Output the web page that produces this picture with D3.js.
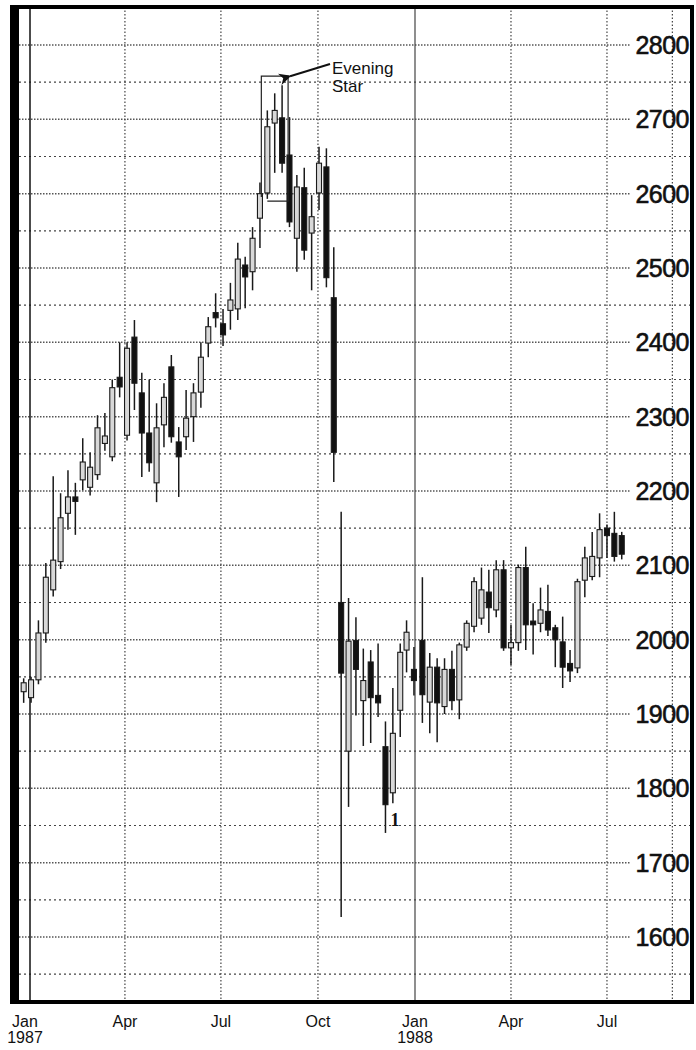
<!DOCTYPE html>
<html>
<head>
<meta charset="utf-8">
<script src="https://cdn.jsdelivr.net/npm/d3@7"></script>
<style>
  body { margin: 0; background: #fff; }
  svg { display: block; }
</style>
</head>
<body>
<div id="chart"></div>
<script>
const SVG_WIDTH = 696;
const SVG_HEIGHT = 1050;

// weekly candles (week ending dates), Dow Jones Industrials
const WEEKS = [
  "1986-12-26", "1987-01-02", "1987-01-09", "1987-01-16", "1987-01-23", "1987-01-30",
  "1987-02-06", "1987-02-13", "1987-02-20", "1987-02-27", "1987-03-06", "1987-03-13",
  "1987-03-20", "1987-03-27", "1987-04-03", "1987-04-10", "1987-04-17", "1987-04-24",
  "1987-05-01", "1987-05-08", "1987-05-15", "1987-05-22", "1987-05-29", "1987-06-05",
  "1987-06-12", "1987-06-19", "1987-06-26", "1987-07-03", "1987-07-10", "1987-07-17",
  "1987-07-24", "1987-07-31", "1987-08-07", "1987-08-14", "1987-08-21", "1987-08-28",
  "1987-09-04", "1987-09-11", "1987-09-18", "1987-09-25", "1987-10-02", "1987-10-09",
  "1987-10-16", "1987-10-23", "1987-10-30", "1987-11-06", "1987-11-13", "1987-11-20",
  "1987-11-27", "1987-12-04", "1987-12-11", "1987-12-18", "1987-12-24", "1987-12-31",
  "1988-01-08", "1988-01-15", "1988-01-22", "1988-01-29", "1988-02-05", "1988-02-12",
  "1988-02-19", "1988-02-26", "1988-03-04", "1988-03-11", "1988-03-18", "1988-03-25",
  "1988-04-01", "1988-04-08", "1988-04-15", "1988-04-22", "1988-04-29", "1988-05-06",
  "1988-05-13", "1988-05-20", "1988-05-27", "1988-06-03", "1988-06-10", "1988-06-17",
  "1988-06-24", "1988-07-01", "1988-07-08", "1988-07-15"
];
const OPEN = [
  1930, 1922, 1946, 2009, 2067, 2105, 2170, 2192, 2215, 2205, 2222, 2264,
  2246, 2353, 2275, 2407, 2332, 2278, 2211, 2289, 2367, 2266, 2273, 2300,
  2333, 2399, 2440, 2425, 2443, 2445, 2504, 2495, 2567, 2601, 2695, 2702,
  2652, 2540, 2608, 2547, 2601, 2636, 2460, 2050, 1850, 1999, 1918, 1970,
  1925, 1856, 1794, 1905, 1986, 1960, 1999, 1916, 1963, 1910, 1960, 1919,
  1990, 2018, 2029, 2064, 2040, 2094, 1989, 1996, 2097, 2025, 2022, 2038,
  2016, 1997, 1968, 1962, 2080, 2085, 2110, 2150, 2143, 2140
];
const HIGH = [
  1948, 1950, 2026, 2103, 2220, 2197, 2228, 2211, 2271, 2252, 2302, 2305,
  2350, 2400, 2400, 2430, 2359, 2350, 2318, 2345, 2383, 2286, 2336, 2345,
  2400, 2434, 2466, 2445, 2480, 2534, 2515, 2555, 2615, 2712, 2735, 2746,
  2703, 2625, 2635, 2598, 2663, 2661, 2528, 2172, 2056, 2030, 1988, 1986,
  1995, 1890, 1935, 1995, 2026, 1990, 2084, 1982, 1975, 1975, 1985, 1996,
  2026, 2084, 2097, 2094, 2107, 2107, 2020, 2101, 2125, 2049, 2070, 2074,
  2020, 2031, 1986, 2082, 2125, 2145, 2170, 2155, 2172, 2145
];
const LOW = [
  1915, 1915, 1940, 1996, 2058, 2095, 2148, 2141, 2201, 2194, 2215, 2254,
  2240, 2326, 2268, 2309, 2219, 2226, 2185, 2259, 2265, 2192, 2255, 2266,
  2312, 2380, 2420, 2395, 2417, 2430, 2446, 2470, 2527, 2593, 2628, 2628,
  2555, 2495, 2511, 2470, 2578, 2474, 2212, 1627, 1775, 1898, 1857, 1861,
  1896, 1740, 1780, 1869, 1956, 1925, 1888, 1874, 1862, 1900, 1905, 1893,
  1985, 2010, 2020, 2009, 2030, 1985, 1966, 1985, 1986, 1980, 2010, 2005,
  1963, 1935, 1943, 1955, 2057, 2080, 2084, 2110, 2105, 2108
];
const CLOSE = [
  1942, 1946, 2009, 2084, 2107, 2164, 2192, 2186, 2239, 2232, 2285, 2274,
  2339, 2340, 2392, 2345, 2278, 2238, 2285, 2326, 2273, 2246, 2298, 2332,
  2380, 2421, 2433, 2410, 2457, 2512, 2488, 2540, 2600, 2690, 2712, 2641,
  2562, 2609, 2524, 2569, 2641, 2487, 2252, 1955, 1998, 1960, 1945, 1922,
  1915, 1778, 1874, 1983, 2010, 1945, 1926, 1963, 1915, 1960, 1918, 1993,
  2022, 2078, 2067, 2043, 2094, 1989, 1996, 2097, 2020, 2020, 2040, 2013,
  2000, 1963, 1958, 2078, 2110, 2112, 2148, 2140, 2112, 2115
];

const PRICE_TICKS = [1600, 1700, 1800, 1900, 2000, 2100, 2200, 2300, 2400, 2500, 2600, 2700, 2800];
const HALF_TICKS = [1550, 1650, 1750, 1850, 1950, 2050, 2150, 2250, 2350, 2450, 2550, 2650, 2750];
const MONTH_TICKS = ["1987-01-01", "1987-04-01", "1987-07-01", "1987-10-01", "1988-01-01", "1988-04-01", "1988-07-01"];
const MONTH_LABELS = [["Jan", "1987"], ["Apr"], ["Jul"], ["Oct"], ["Jan", "1988"], ["Apr"], ["Jul"]];
const EXTRA_VLINES = ["1988-09-01"];

const STAR_WEEKS = ["1987-08-14", "1987-08-28"];
const STAR_RANGE = [2590, 2758];
const DEC_LOW_WEEK = "1987-12-04";

const parse = d3.timeParse("%Y-%m-%d");

const FRAME = { left: 14, right: 692, top: 7, bottom: 1002 };

const xScale = d3.scaleTime()
  .domain([parse("1987-01-01"), parse("1988-01-01")])
  .range([30, 415]);

const yScale = d3.scaleLinear()
  .domain([1600, 2800])
  .range([937, 45]);

const data = WEEKS.map((w, i) => ({
  date: parse(w), open: OPEN[i], high: HIGH[i], low: LOW[i], close: CLOSE[i]
}));

const svg = d3.select("#chart")
  .append("svg")
  .attr("width", SVG_WIDTH)
  .attr("height", SVG_HEIGHT);

// horizontal grid
svg.append("g")
  .selectAll("line")
  .data(HALF_TICKS)
  .join("line")
  .attr("x1", FRAME.left + 5)
  .attr("x2", FRAME.right)
  .attr("y1", d => yScale(d))
  .attr("y2", d => yScale(d))
  .attr("stroke", "#444")
  .attr("stroke-width", 1.2)
  .attr("stroke-dasharray", "2,3");

svg.append("g")
  .selectAll("line")
  .data(PRICE_TICKS)
  .join("line")
  .attr("x1", FRAME.left + 5)
  .attr("x2", 630)
  .attr("y1", d => yScale(d))
  .attr("y2", d => yScale(d))
  .attr("stroke", "#555")
  .attr("stroke-width", 1.5)
  .attr("stroke-dasharray", "1.5,1.5");

// vertical grid
svg.append("g")
  .selectAll("line")
  .data(MONTH_TICKS.concat(EXTRA_VLINES))
  .join("line")
  .attr("x1", d => xScale(parse(d)))
  .attr("x2", d => xScale(parse(d)))
  .attr("y1", FRAME.top)
  .attr("y2", FRAME.bottom)
  .attr("stroke", (d, i) => i === 0 ? "#111" : "#444")
  .attr("stroke-width", (d, i) => i === 0 ? 1.5 : 1.2)
  .attr("stroke-dasharray", (d, i) => (i === 0 || i === 4) ? null : "1.5,2");

// candles
const candles = svg.append("g").attr("class", "candles");
const BODY_W = 5;

candles.selectAll(".wick")
  .data(data)
  .join("line")
  .attr("class", "wick")
  .attr("x1", d => xScale(d.date))
  .attr("x2", d => xScale(d.date))
  .attr("y1", d => yScale(d.high))
  .attr("y2", d => yScale(d.low))
  .attr("stroke", "#1a1a1a")
  .attr("stroke-width", 1.5);

candles.selectAll(".body")
  .data(data)
  .join("rect")
  .attr("class", "body")
  .attr("x", d => xScale(d.date) - BODY_W / 2)
  .attr("y", d => yScale(Math.max(d.open, d.close)))
  .attr("width", BODY_W)
  .attr("height", d => Math.max(1.5, Math.abs(yScale(d.open) - yScale(d.close))))
  .attr("fill", d => d.close >= d.open ? "#d8d8d8" : "#111")
  .attr("stroke", "#1a1a1a")
  .attr("stroke-width", 1.1);

// y labels
svg.append("g")
  .selectAll("text")
  .data(PRICE_TICKS)
  .join("text")
  .attr("x", 689)
  .attr("y", d => yScale(d))
  .attr("dy", "0.36em")
  .attr("text-anchor", "end")
  .attr("font-family", "Liberation Sans, Arial, sans-serif")
  .attr("font-size", 25)
  .attr("letter-spacing", -0.5)
  .attr("fill", "#111")
  .attr("stroke", "#111")
  .attr("stroke-width", 0.6)
  .text(d => d);

// x labels
const xLabels = svg.append("g")
  .selectAll("text")
  .data(MONTH_TICKS)
  .join("text")
  .attr("y", 1027)
  .attr("text-anchor", "middle")
  .attr("font-family", "Liberation Sans Narrow, Arial Narrow, Liberation Sans, sans-serif")
  .attr("font-size", 16)
  .attr("fill", "#111");

xLabels.each(function(d, i) {
  const t = d3.select(this);
  MONTH_LABELS[i].forEach((s, k) => {
    t.append("tspan")
      .attr("x", xScale(parse(d)) - (i === 0 ? 5 : 0))
      .attr("dy", k === 0 ? 0 : 16)
      .text(s);
  });
});

// evening star annotation
const boxL = xScale(parse(STAR_WEEKS[0])) - 6;
const boxR = xScale(parse(STAR_WEEKS[1])) + 6;
const boxT = yScale(STAR_RANGE[1]);
const boxB = yScale(STAR_RANGE[0]);

svg.append("path")
  .attr("d", `M${boxL},${boxB - 4}V${boxT}H${boxR}V${boxB}H${boxL + 6}`)
  .attr("fill", "none")
  .attr("stroke", "#222")
  .attr("stroke-width", 1.2);

svg.append("defs").append("marker")
  .attr("id", "arrow")
  .attr("viewBox", "0 0 10 10")
  .attr("refX", 1)
  .attr("refY", 5)
  .attr("markerWidth", 7)
  .attr("markerHeight", 6)
  .attr("orient", "auto-start-reverse")
  .append("path")
  .attr("d", "M0,5L10,0L7,5L10,10Z")
  .attr("fill", "#111");

svg.append("line")
  .attr("x1", boxR + 2)
  .attr("y1", boxT)
  .attr("x2", 330)
  .attr("y2", 64)
  .attr("stroke", "#111")
  .attr("stroke-width", 2)
  .attr("marker-start", "url(#arrow)");

svg.append("text")
  .attr("x", 332)
  .attr("y", 74)
  .attr("font-family", "Liberation Sans, Arial, sans-serif")
  .attr("font-size", 17)
  .attr("fill", "#111")
  .text("Evening");

svg.append("text")
  .attr("x", 332)
  .attr("y", 92)
  .attr("font-family", "Liberation Sans, Arial, sans-serif")
  .attr("font-size", 17)
  .attr("fill", "#111")
  .text("Star");

svg.append("text")
  .attr("x", xScale(parse(DEC_LOW_WEEK)) + 5)
  .attr("y", yScale(1750))
  .attr("font-family", "Liberation Serif, serif")
  .attr("font-weight", "bold")
  .attr("font-size", 18)
  .attr("fill", "#111")
  .text("1");

// frame
svg.append("rect")
  .attr("x", FRAME.left)
  .attr("y", FRAME.top)
  .attr("width", FRAME.right - FRAME.left)
  .attr("height", FRAME.bottom - FRAME.top)
  .attr("fill", "none")
  .attr("stroke", "#000")
  .attr("stroke-width", 4);

svg.append("rect")
  .attr("x", 10)
  .attr("y", FRAME.top - 2)
  .attr("width", 9)
  .attr("height", FRAME.bottom - FRAME.top + 4)
  .attr("fill", "#000");
</script>
</body>
</html>
